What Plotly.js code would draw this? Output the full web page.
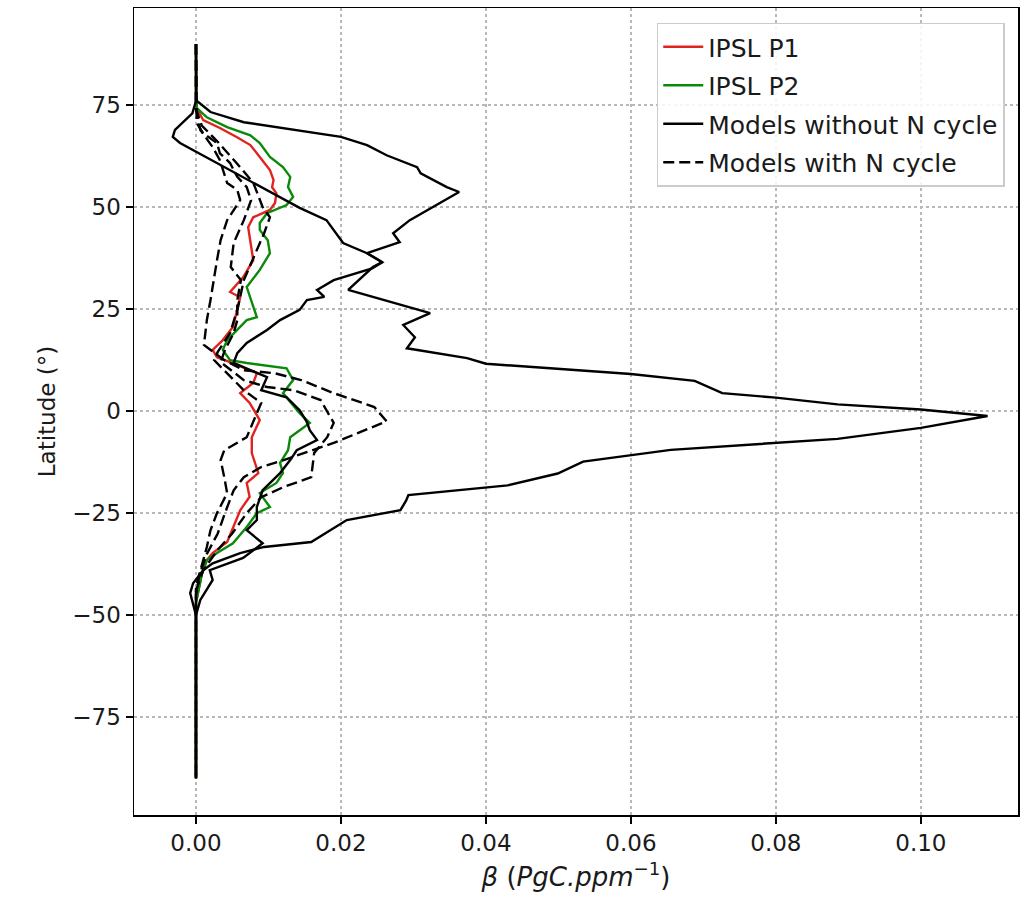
<!DOCTYPE html>
<html>
<head>
<meta charset="utf-8">
<script src="https://cdn.plot.ly/plotly-3.0.1.min.js"></script>
<style>html,body{margin:0;padding:0;background:#fff;}#chart{width:1026px;height:902px;}</style>
</head>
<body>
<div id="chart"></div>
<script>
// IPSL P1 (red)
const p1Lat  = [90, 76, 74.3, 71.3, 69.4, 67.2, 65.2, 62.3, 59.1, 56.6, 54.9, 53.4, 51, 49.3, 47.5, 45.1, 41.9, 37, 32.8, 29.2, 27.9, 24.8, 20.6, 17.4, 15, 13.2, 12, 9.3, 6.9, 4.4, 2, -2.2, -6.4, -10.3, -15.2, -17.6, -21, -24.3, -28.4, -32.1, -34.8, -36.5, -40, -44, -47, -90];
const p1Beta = [0, 0, 0.0001, 0.001, 0.0033, 0.0056, 0.0075, 0.0088, 0.0102, 0.0107, 0.0105, 0.0111, 0.0109, 0.0102, 0.0079, 0.0072, 0.0075, 0.0079, 0.0065, 0.0047, 0.0061, 0.0057, 0.0051, 0.0037, 0.0023, 0.0029, 0.0047, 0.0084, 0.0079, 0.0061, 0.0074, 0.0088, 0.0077, 0.0077, 0.0086, 0.007, 0.0074, 0.0061, 0.0051, 0.0043, 0.0023, 0.0015, 0.0008, 0.0003, 0, 0];

// IPSL P2 (green)
const p2Lat  = [90, 76, 74.3, 72, 69.6, 67.6, 65.7, 62.3, 59.8, 57.4, 54.9, 52.5, 50.5, 48.5, 46.1, 44.4, 41.9, 38.7, 34.6, 30.4, 28.4, 23, 22.3, 20.6, 17.4, 15, 12.5, 11.8, 10.5, 7.6, 4.4, -0.5, -2.9, -6.4, -9.6, -12.7, -15.2, -17.6, -20.1, -23.5, -25, -28.4, -32.4, -34.8, -36.5, -40, -44, -47, -90];
const p2Beta = [0, 0, 0.0001, 0.0015, 0.0043, 0.0075, 0.0088, 0.0102, 0.012, 0.013, 0.0127, 0.0134, 0.0125, 0.0098, 0.0088, 0.0088, 0.0099, 0.0102, 0.0088, 0.007, 0.0074, 0.0084, 0.007, 0.0061, 0.0043, 0.0037, 0.0047, 0.007, 0.0125, 0.0134, 0.012, 0.0143, 0.0157, 0.013, 0.0127, 0.0116, 0.012, 0.0111, 0.0088, 0.0102, 0.0084, 0.007, 0.0051, 0.0029, 0.0015, 0.0008, 0.0003, 0, 0];

// Models without N cycle (solid black), model A
const s1Lat  = [90, 76.2, 73.3, 70.8, 67.2, 65.2, 62.7, 59.8, 58.3, 54.9, 53.7, 51, 46.8, 43.6, 41.4, 38.7, 36.5, 35.3, 29.7, 24, 21.1, 18.1, 15.4, 13, 11.6, 9.1, 7.4, 4.4, 3.3, 1.65, 0.4, -1.2, -4.1, -6.8, -7.8, -9.5, -12.4, -15.3, -18.2, -20.6, -21.9, -24.3, -26.7, -32.1, -33.3, -34.8, -37.3, -39, -42.2, -44.6, -50, -90];
const s1Beta = [0, 0, 0.002, 0.0066, 0.02, 0.0236, 0.0263, 0.0305, 0.031, 0.0346, 0.0363, 0.0337, 0.0295, 0.0272, 0.0281, 0.0236, 0.0257, 0.0244, 0.021, 0.0323, 0.0286, 0.0302, 0.0291, 0.0374, 0.04, 0.06, 0.0688, 0.0726, 0.08, 0.0885, 0.1, 0.1092, 0.1, 0.0885, 0.08, 0.0655, 0.0534, 0.0499, 0.043, 0.0293, 0.029, 0.0282, 0.0208, 0.0159, 0.0094, 0.0061, 0.0023, 0.001, -0.0004, -0.0008, 0, 0];

// Models without N cycle (solid black), model B
const s2Lat  = [90, 76, 73, 68.9, 67.2, 65.7, 49.8, 46.8, 41.2, 38.7, 36.5, 35, 32.1, 29.7, 28, 27.2, 24.8, 22.3, 19.9, 16.7, 14.2, 11.8, 8.3, 5.1, 3.4, 0.2, -2.7, -4.7, -7.1, -9.6, -12, -15.2, -19.4, -23.5, -26.7, -29.2, -32.4, -36, -39, -41.4, -46.3, -50, -90];
const s2Beta = [0, 0, -0.0005, -0.0029, -0.0032, -0.0022, 0.0143, 0.018, 0.0203, 0.0236, 0.0257, 0.0243, 0.019, 0.0167, 0.0177, 0.0153, 0.0143, 0.0116, 0.0098, 0.007, 0.0057, 0.0052, 0.0098, 0.009, 0.0125, 0.0143, 0.0153, 0.0157, 0.0167, 0.0139, 0.013, 0.0116, 0.0092, 0.0084, 0.0084, 0.007, 0.0092, 0.0065, 0.0019, 0.0023, 0.0006, 0, 0];

// Models with N cycle (dashed black)
const d1Lat  = [90, 74, 68.9, 64.7, 61.5, 59.1, 55.9, 54.2, 51.7, 46.8, 41.9, 37, 32.1, 27.2, 22.3, 17.4, 16.2, 12.5, 10, 9.3, 7.6, 4.4, 1, -2.5, -7.8, -12, -13.7, -16.2, -19.4, -25, -30, -35, -40, -45, -90];
const d1Beta = [0, 0, 0.0006, 0.0023, 0.0033, 0.0037, 0.0043, 0.0057, 0.0061, 0.0043, 0.0034, 0.0029, 0.0025, 0.002, 0.0015, 0.0011, 0.0011, 0.0039, 0.0066, 0.0108, 0.0145, 0.019, 0.0246, 0.0263, 0.019, 0.0121, 0.009, 0.0066, 0.0052, 0.004, 0.003, 0.0015, 0.0005, 0, 0];

const d2Lat  = [90, 74, 70.6, 68.1, 65.7, 63.2, 60.8, 57.4, 54.9, 51.7, 46.8, 41.2, 35.3, 32.1, 27.2, 22.3, 19.1, 15, 12, 7.6, 5.9, 5.1, 2.7, -2.9, -6.4, -10.3, -16.2, -18.6, -21.1, -25, -30, -34, -39, -44, -90];
const d2Beta = [0, 0, 0.0001, 0.001, 0.0029, 0.0033, 0.0047, 0.0057, 0.007, 0.0076, 0.0066, 0.0052, 0.0048, 0.0062, 0.0057, 0.0057, 0.0052, 0.004, 0.0034, 0.0066, 0.0098, 0.0135, 0.0172, 0.019, 0.0181, 0.0163, 0.0159, 0.0121, 0.009, 0.007, 0.005, 0.003, 0.001, 0, 0];

const d3Lat  = [90, 74, 70, 66, 61, 56, 50, 47.5, 43.6, 39.5, 32.1, 25.5, 19.1, 14.5, 12.5, 5.1, 2, -0.5, -6.4, -9.6, -12, -16.2, -20.1, -25, -29.2, -33.3, -38.2, -43, -90];
const d3Beta = [0, 0, 0.0008, 0.003, 0.0055, 0.0079, 0.0092, 0.0102, 0.0094, 0.0084, 0.0066, 0.0058, 0.0047, 0.003, 0.0025, 0.0066, 0.009, 0.0084, 0.007, 0.0039, 0.0034, 0.0039, 0.0043, 0.0029, 0.002, 0.0015, 0.0007, 0, 0];

const xTicks = [0, 0.02, 0.04, 0.06, 0.08, 0.1];
const xTickText = ["0.00", "0.02", "0.04", "0.06", "0.08", "0.10"];
const yTicks = [-75, -50, -25, 0, 25, 50, 75];

const LW = 2.4;
const RED = "#e0231f", GREEN = "#0a8a0a", BLACK = "#000000";
const DASH = "11px,5px";

const traces = [
  {x: p1Beta, y: p1Lat, name: "IPSL P1", legendgroup: "a", line: {color: RED, width: LW}},
  {x: p2Beta, y: p2Lat, name: "IPSL P2", legendgroup: "b", line: {color: GREEN, width: LW}},
  {x: s1Beta, y: s1Lat, name: "Models without N cycle", legendgroup: "s", line: {color: BLACK, width: LW}},
  {x: s2Beta, y: s2Lat, name: "Models without N cycle", legendgroup: "s", showlegend: false, line: {color: BLACK, width: LW}},
  {x: d1Beta, y: d1Lat, name: "Models with N cycle", legendgroup: "d", line: {color: BLACK, width: LW, dash: DASH}},
  {x: d2Beta, y: d2Lat, name: "Models with N cycle", legendgroup: "d", showlegend: false, line: {color: BLACK, width: LW, dash: DASH}},
  {x: d3Beta, y: d3Lat, name: "Models with N cycle", legendgroup: "d", showlegend: false, line: {color: BLACK, width: LW, dash: DASH}}
].map(t => Object.assign({type: "scatter", mode: "lines", hoverinfo: "skip"}, t));

const FONT = "DejaVu Sans, sans-serif";
const TXT = "#1a1a1a";
const layout = {
  width: 1026, height: 902,
  margin: {l: 134, r: 8, t: 8, b: 87},
  paper_bgcolor: "#fff", plot_bgcolor: "#fff",
  font: {family: FONT, size: 22, color: TXT},
  showlegend: true,
  legend: {
    x: 0.985, y: 0.982, xanchor: "right", yanchor: "top",
    bgcolor: "rgba(255,255,255,0.85)", bordercolor: "#cccccc", borderwidth: 1.5,
    font: {family: FONT, size: 25, color: TXT},
    tracegroupgap: 3, itemwidth: 40
  },
  xaxis: {
    range: [-0.00855, 0.1134],
    tickvals: xTicks, ticktext: xTickText,
    ticks: "outside", ticklen: 7, tickwidth: 1.3, tickcolor: "#000",
    showline: true, linecolor: "#000", linewidth: 1.5, mirror: true,
    showgrid: true, gridcolor: "#b8b8b8", griddash: "dot", gridwidth: 1.3,
    zeroline: false,
    tickfont: {family: FONT, size: 23, color: TXT},
    title: {text: "<i>β</i> (<i>PgC.ppm</i><sup>−1</sup>)", font: {family: FONT, size: 26, color: TXT}, standoff: 12}
  },
  yaxis: {
    range: [-99, 98.8],
    tickvals: yTicks,
    ticks: "outside", ticklen: 7, tickwidth: 1.3, tickcolor: "#000",
    showline: true, linecolor: "#000", linewidth: 1.5, mirror: true,
    showgrid: true, gridcolor: "#b8b8b8", griddash: "dot", gridwidth: 1.3,
    zeroline: false,
    tickfont: {family: FONT, size: 23, color: TXT},
    title: {text: "Latitude (°)", font: {family: FONT, size: 23, color: TXT}, standoff: 10}
  }
};

Plotly.newPlot("chart", traces, layout, {staticPlot: true, displayModeBar: false});
</script>
</body>
</html>
